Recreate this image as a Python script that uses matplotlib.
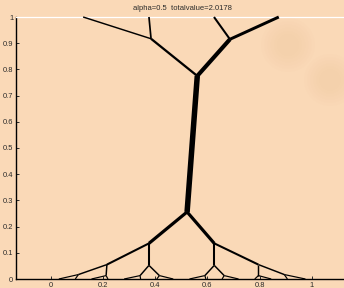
import matplotlib
matplotlib.use("Agg")
import matplotlib.pyplot as plt
from matplotlib.patches import Ellipse

# ---- data ----
node_x = [0.522, 0.561, 0.384, 0.686,            # D, C, A, B
          0.124, 0.376, 0.625, 0.873,            # top sources
          0.376, 0.626,                          # L1, R1
          0.215, 0.376, 0.626, 0.795,            # quarter nodes
          0.106, 0.212, 0.342, 0.416, 0.590, 0.664, 0.795, 0.894,  # eighth nodes
          0.031, 0.094, 0.156, 0.219, 0.281, 0.344, 0.406, 0.469,
          0.531, 0.594, 0.656, 0.719, 0.781, 0.844, 0.906, 0.975]  # sinks
node_y = [0.256, 0.775, 0.917, 0.915,
          1.0, 1.0, 1.0, 1.0,
          0.136, 0.136,
          0.055, 0.052, 0.052, 0.055,
          0.017, 0.013, 0.013, 0.013, 0.013, 0.013, 0.013, 0.017,
          0.0, 0.0, 0.0, 0.0, 0.0, 0.0, 0.0, 0.0,
          0.0, 0.0, 0.0, 0.0, 0.0, 0.0, 0.0, 0.0]
edge_from = [0, 1, 1, 2, 2, 3, 3,
             0, 0, 8, 8, 9, 9,
             10, 10, 11, 11, 12, 12, 13, 13,
             14, 14, 15, 15, 16, 16, 17, 17, 18, 18, 19, 19, 20, 20, 21, 21]
edge_to = [1, 2, 3, 4, 5, 6, 7,
           8, 9, 10, 11, 12, 13,
           14, 15, 16, 17, 18, 19, 20, 21,
           22, 23, 24, 25, 26, 27, 28, 29, 30, 31, 32, 33, 34, 35, 36, 37]
edge_flow = [1.0, 0.3, 0.7, 0.12, 0.18, 0.25, 0.45,
             0.5, 0.5, 0.25, 0.25, 0.25, 0.25,
             0.125, 0.125, 0.125, 0.125, 0.125, 0.125, 0.125, 0.125] + [0.0625] * 16
x_ticks = [0, 0.2, 0.4, 0.6, 0.8, 1]
x_labels = ["0", "0.2", "0.4", "0.6", "0.8", "1"]
y_ticks = [0, 0.1, 0.2, 0.3, 0.4, 0.5, 0.6, 0.7, 0.8, 0.9, 1]
y_labels = ["0", "0.1", "0.2", "0.3", "0.4", "0.5", "0.6", "0.7", "0.8", "0.9", "1"]
title = "alpha=0.5  totalvalue=2.0178"

# ---- figure ----
bg = "#FAD9B7"
plt.rcParams["font.family"] = ["Liberation Sans", "DejaVu Sans"]
fig = plt.figure(figsize=(3.44, 2.88), dpi=100, facecolor=bg)

# faint soft blotches in the background
W, H = 344.0, 288.0
for cx, cy, r in [(288, 45, 27), (330, 80, 26)]:
    for k in range(6):
        rr = r * (1 - k * 0.12)
        fig.patches.append(Ellipse((cx / W, 1 - cy / H), 2 * rr / W, 2 * rr / H,
                                   transform=fig.transFigure, facecolor="#F2C29A",
                                   edgecolor="none", alpha=0.05, zorder=0))

ax = fig.add_axes([16 / W, 9 / H, 332 / W, 262 / H])
ax.set_facecolor("none")
ax.set_xlim(-0.133, 1.138)
ax.set_ylim(0, 1)

px = 0.72
for f, t, m in zip(edge_from, edge_to, edge_flow):
    lw = (0.9 + 4.6 * m) * px
    ax.plot([node_x[f], node_x[t]], [node_y[f], node_y[t]], color="black",
            lw=lw, solid_capstyle="butt", solid_joinstyle="round", clip_on=False, zorder=3)

ax.set_xticks(x_ticks)
ax.set_xticklabels(x_labels)
ax.set_yticks(y_ticks)
ax.set_yticklabels(y_labels)
ax.tick_params(direction="in", length=2.3, width=0.7, labelsize=5.4, colors="#2a2a2a", pad=2)
for s in ["left", "bottom"]:
    ax.spines[s].set_color("black")
    ax.spines[s].set_linewidth(1.0)
ax.spines["top"].set_color("white")
ax.spines["top"].set_linewidth(0.9)
ax.spines["right"].set_visible(False)

fig.text(182 / W, 1 - 9 / H, title, ha="center", va="center", fontsize=5.5, color="#2a2a2a")

fig.savefig("out.png", dpi=100, facecolor=bg)
